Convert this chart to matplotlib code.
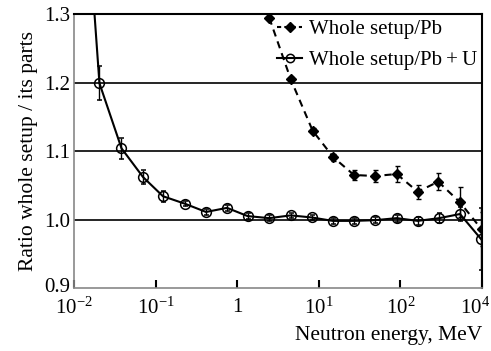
import matplotlib
matplotlib.use("Agg")
import matplotlib.pyplot as plt
import matplotlib.transforms as mtransforms
from matplotlib.lines import Line2D
import numpy as np

plt.rcParams['font.family'] = ['Liberation Serif', 'DejaVu Serif']
plt.rcParams['mathtext.fontset'] = 'custom'
plt.rcParams['mathtext.rm'] = 'Liberation Serif'
plt.rcParams['mathtext.it'] = 'Liberation Serif:italic'

# Whole setup / Pb+U (open circles)
e_pbu = [0.0145, 0.0205, 0.0382, 0.0701, 0.123, 0.229, 0.415, 0.75, 1.34, 2.47, 4.53,
         8.19, 14.8, 27.0, 48.8, 90.1, 163, 300, 537, 972]
r_pbu = [1.45, 1.199, 1.104, 1.062, 1.034, 1.023, 1.011, 1.017, 1.005, 1.002, 1.006,
         1.003, 0.998, 0.998, 0.999, 1.002, 0.998, 1.002, 1.008, 0.9715]
err_pbu = [0.0, 0.025, 0.015, 0.010, 0.008, 0.004, 0.004, 0.004, 0.004, 0.004, 0.004,
           0.004, 0.004, 0.004, 0.004, 0.005, 0.006, 0.007, 0.010, 0.045]

# Whole setup / Pb (filled diamonds)
e_pb = [2.47, 4.53, 8.41, 15.1, 27.0, 48.8, 90.1, 163, 291, 537, 988]
r_pb = [1.2946, 1.2047, 1.1296, 1.0908, 1.065, 1.0635, 1.0664, 1.0406, 1.0552, 1.0251, 0.9857]
err_pb = [0.003, 0.003, 0.004, 0.005, 0.008, 0.009, 0.011, 0.010, 0.012, 0.022, 0.025]

xtick_pos = [1e-2, 1e-1, 1, 1e1, 1e2, 1e3]
xtick_labels = [r'$10^{-2}$', r'$10^{-1}$', '1', r'$10^{1}$', r'$10^{2}$', r'$10^{4}$']
ytick_vals = [0.9, 1.0, 1.1, 1.2, 1.3]

FS = 15

fig = plt.figure(figsize=(4.91, 3.51), dpi=100)
ax = fig.add_axes([0.1507, 0.1795, 0.8310, 0.7805])

for y in [1.0, 1.1, 1.2]:
    ax.axhline(y, color='black', lw=1.2, zorder=1)

ax.errorbar(e_pb, r_pb, yerr=err_pb, color='black', ls=(0, (3.5, 2.5)), lw=1.5,
            marker='D', ms=5, mfc='black', mec='black', capsize=1.8, elinewidth=1,
            zorder=3)
ax.errorbar(e_pbu, r_pbu, yerr=err_pbu, color='black', ls='-', lw=1.5,
            marker='o', ms=7, mfc='none', mec='black', mew=1.1, capsize=1.8, elinewidth=1,
            zorder=4)

ax.set_xscale('log')
ax.set_xlim(1e-2, 1e3)
ax.set_ylim(0.9, 1.3)
ax.set_xticks(xtick_pos)
ax.set_xticklabels(xtick_labels)
ax.xaxis.set_minor_locator(matplotlib.ticker.NullLocator())
ax.set_yticks(ytick_vals)
ax.set_yticklabels([f'{v:.1f}' for v in ytick_vals])
ax.tick_params(axis='x', direction='in', length=6, width=1.5, labelsize=FS, pad=7)
ax.tick_params(axis='y', length=0, labelsize=FS, pad=3)

last = ax.get_xticklabels()[-1]
last.set_horizontalalignment('right')
last.set_transform(last.get_transform() + mtransforms.ScaledTranslation(8/100, 0, fig.dpi_scale_trans))
first_y = ax.get_yticklabels()[0]
first_y.set_transform(first_y.get_transform() + mtransforms.ScaledTranslation(0, 3/100, fig.dpi_scale_trans))

ax.spines['left'].set_color('#888888')
ax.spines['bottom'].set_color('#888888')
ax.spines['left'].set_linewidth(1.2)
ax.spines['bottom'].set_linewidth(1.2)
ax.spines['top'].set_linewidth(1.5)
ax.spines['right'].set_linewidth(1.5)

ax.set_ylabel('Ratio whole setup / its parts', fontsize=FS + 0.5, labelpad=4)
ax.set_xlabel('Neutron energy, MeV', fontsize=FS + 0.5, loc='right', labelpad=5)

handles = [
    Line2D([], [], color='black', ls=(0, (2, 1.5)), lw=1.5, marker='D', ms=5),
    Line2D([], [], color='black', ls='-', lw=1.5, marker='o', ms=6, mfc='none', mew=1.1),
]
labels = ['Whole setup/Pb', 'Whole setup/Pb\u2009+\u2009U']
ax.legend(handles, labels, loc='upper right', frameon=False, fontsize=FS, handlelength=1.2,
          handletextpad=0.3, borderaxespad=0.0, borderpad=0.25, labelspacing=0.55)

fig.savefig('out.png', dpi=100)
